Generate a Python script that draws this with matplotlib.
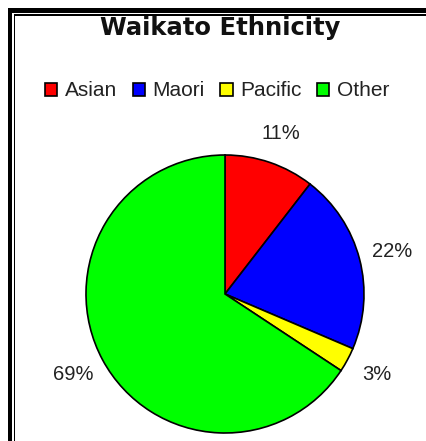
import numpy as np
import matplotlib
matplotlib.use("Agg")
from matplotlib import pyplot as plt
from matplotlib.patches import Patch, Rectangle

groups = ["Asian", "Maori", "Pacific", "Other"]
shares = [11, 22, 3, 69]
colours = ["#ff0000", "#0000ff", "#ffff00", "#00ff00"]
title = "Waikato Ethnicity"

W, H = 427, 441
fig = plt.figure(figsize=(W / 100, H / 100), dpi=100)
fig.patch.set_facecolor("white")

# double frame on the top and left edges (pixel coords, y from top)
def px_rect(x0, y0, w, h):
    return Rectangle((x0 / W, 1 - (y0 + h) / H), w / W, h / H,
                     transform=fig.transFigure, facecolor="black",
                     edgecolor="none", zorder=5)

fig.add_artist(px_rect(8, 8, 4.5, H - 8))
fig.add_artist(px_rect(8, 8, W - 8, 4.5))
fig.add_artist(px_rect(14, 14, 1.5, H - 14))
fig.add_artist(px_rect(14, 14, W - 14, 1.5))

fig.text(220 / W, 1 - 28 / H, title, ha="center", va="center",
         fontsize=17.5, fontweight="bold", family="DejaVu Sans", color="#111111")

# pie centred at (225, 294) px with radius 139 px
cx, cy, r = 225, 294, 139
ax = fig.add_axes([(cx - r) / W, (H - cy - r) / H, 2 * r / W, 2 * r / H])
wedges, _ = ax.pie(shares, colors=colours, startangle=90, counterclock=False,
                   wedgeprops=dict(edgecolor="black", linewidth=1.2))
ax.set_xlim(-1, 1)
ax.set_ylim(-1, 1)
ax.set_aspect("equal")
ax.axis("off")

for w, v in zip(wedges, shares):
    mid = np.deg2rad((w.theta1 + w.theta2) / 2)
    ax.text(1.24 * np.cos(mid), 1.22 * np.sin(mid), f"{v}%",
            ha="center", va="center", fontsize=14.5, color="#222222",
            family="Liberation Sans", clip_on=False)

handles = [Patch(facecolor=c, edgecolor="black", linewidth=1.2) for c in colours]
fig.legend(handles, groups, loc="center", bbox_to_anchor=(217 / W, 1 - 91 / H),
           ncol=4, frameon=False, prop=dict(family="Liberation Sans", size=15),
           handlelength=0.6, handleheight=0.6, handletextpad=0.35,
           columnspacing=0.75, borderpad=0, labelcolor="#222222")

fig.savefig("out.png", dpi=100)
